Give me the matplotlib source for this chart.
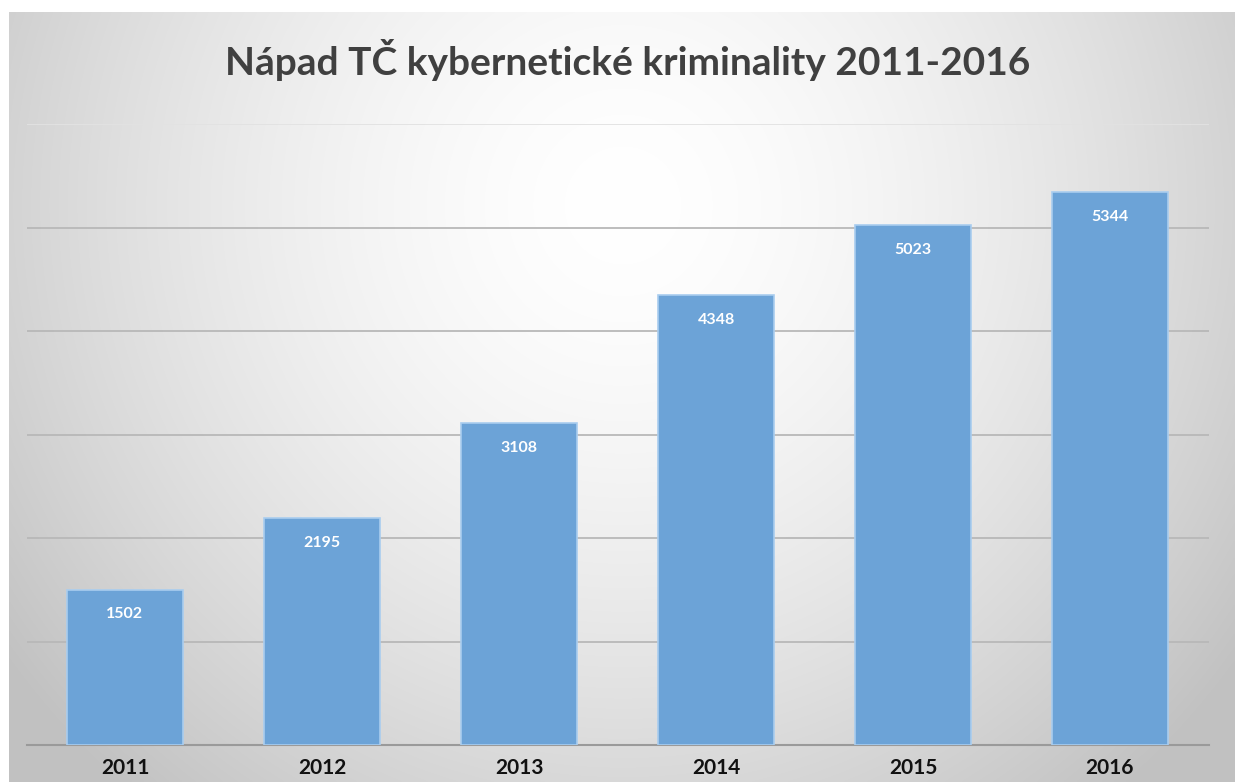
import numpy as np
import matplotlib
matplotlib.use('Agg')
import matplotlib.pyplot as plt

# data
years = ['2011', '2012', '2013', '2014', '2015', '2016']
cases = [1502, 2195, 3108, 4348, 5023, 5344]
title = 'Nápad TČ kybernetické kriminality 2011-2016'

plt.rcParams['font.family'] = ['Lato', 'DejaVu Sans']

fig = plt.figure(figsize=(12.35, 7.82), dpi=100)
fig.patch.set_facecolor('white')

# radial gradient background (chart area frame)
bg = fig.add_axes([9 / 1235, 0, 1 - 9 / 1235, 1 - 12 / 782], zorder=0)
ny, nx = 400, 600
yy, xx = np.mgrid[0:ny, 0:nx]
cx, cy = nx * 0.5, ny * 0.25
d = np.sqrt(((xx - cx) / (nx * 0.62)) ** 2 + ((yy - cy) / (ny * 1.0)) ** 2)
d = np.clip(d, 0, 1)
shade = 1.0 - 0.24 * d ** 1.6
bg.imshow(np.dstack([shade, shade, shade]), aspect='auto', extent=[0, 1, 0, 1],
          origin='upper', interpolation='bilinear')
bg.axis('off')

ax = fig.add_axes([26.5 / 1235, 1 - 745 / 782, 1182 / 1235, (745 - 124) / 782], zorder=1)
ax.patch.set_alpha(0)

x = np.arange(len(years))
bars = ax.bar(x, cases, width=0.585, color='#6ca3d7', edgecolor='#a9cdef',
              linewidth=1.2, zorder=3)

for xi, v in zip(x, cases):
    ax.text(xi, v - 240, str(v), ha='center', va='center', color='white',
            fontsize=11.5, fontweight='bold', zorder=4)

ax.set_xlim(-0.5, len(years) - 0.5)
ax.set_ylim(0, 6000)
ax.set_yticks(np.arange(0, 6001, 1000))
ax.yaxis.grid(True, color='#b8b8b8', linewidth=1.3, zorder=0)
ax.get_ygridlines()[-1].set_color('#e2e2e2')
ax.set_yticklabels([])
ax.tick_params(axis='y', length=0)
ax.set_xticks(x)
ax.set_xticklabels(years, fontsize=15, fontweight='bold', color='#111111')
ax.tick_params(axis='x', length=0, pad=9)
for s in ['top', 'right', 'left']:
    ax.spines[s].set_visible(False)
ax.spines['bottom'].set_color('#9a9a9a')
ax.spines['bottom'].set_linewidth(1.5)

fig.text(0.508, 1 - 60 / 782, title, ha='center', va='center', fontsize=28,
         fontweight='bold', color='#404040')

fig.savefig('out.png', dpi=100)
